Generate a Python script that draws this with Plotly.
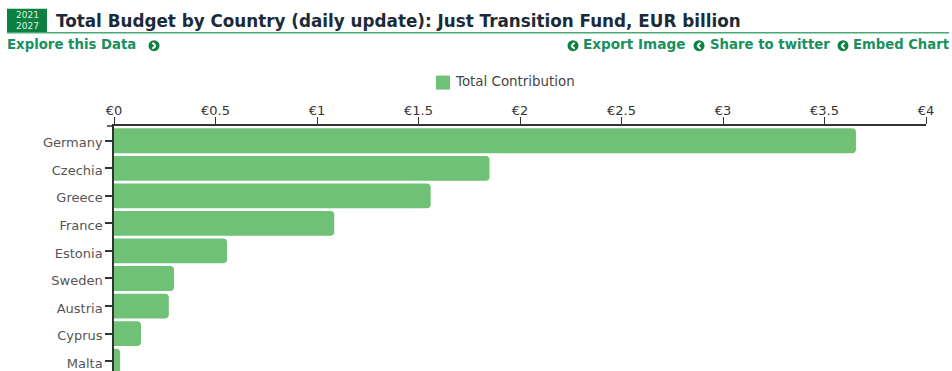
import plotly.graph_objects as go

W, H = 952, 371
L, R, T = 114, 926, 125.5
STEP = 27.6

countries = ["Germany", "Czechia", "Greece", "France", "Estonia", "Sweden", "Austria", "Cyprus", "Malta"]
total_contribution = [3.655, 1.85, 1.56, 1.085, 0.557, 0.296, 0.27, 0.133, 0.03]
x_ticks = [0, 0.5, 1, 1.5, 2, 2.5, 3, 3.5, 4]
x_labels = ["€0", "€0.5", "€1", "€1.5", "€2", "€2.5", "€3", "€3.5", "€4"]
title_text = "Total Budget by Country (daily update): Just Transition Fund, EUR billion"

FONT = "DejaVu Sans"
GREEN = "#6fc175"
DARK = "#0b8040"
LINK = "#1a9060"


def px(x):
    return (x - L) / (R - L)


def py(y):
    return 1 - (y - T) / (H - T)


fig = go.Figure(go.Bar(
    y=countries, x=total_contribution, orientation="h", name="Total Contribution",
    marker=dict(color=GREEN, cornerradius=4, line=dict(width=0)), width=0.9, showlegend=False,
))

annotations = []
shapes = []


def text(x, y, s, size, color, bold=False, anchor="left"):
    annotations.append(dict(
        xref="paper", yref="paper", x=px(x), y=py(y), text=f"<b>{s}</b>" if bold else s,
        showarrow=False, xanchor=anchor, yanchor="middle", borderpad=0, borderwidth=0,
        font=dict(family=FONT, size=size, color=color),
    ))


def rect(x0, y0, x1, y1, color):
    shapes.append(dict(type="rect", xref="paper", yref="paper", x0=px(x0), x1=px(x1), y0=py(y0), y1=py(y1),
                       fillcolor=color, line=dict(width=0), layer="above"))


def line(x0, y0, x1, y1, color, width=1):
    shapes.append(dict(type="line", xref="paper", yref="paper", x0=px(x0), x1=px(x1), y0=py(y0), y1=py(y1),
                       line=dict(color=color, width=width), layer="above"))


def icon(cx, cy, right=False):
    shapes.append(dict(type="circle", xref="paper", yref="paper", x0=px(cx - 5.5), x1=px(cx + 5.5),
                       y0=py(cy - 5.5), y1=py(cy + 5.5), fillcolor=DARK, line=dict(width=0), layer="above"))
    d = 1.6 if right else -1.6
    line(cx - d, cy - 3, cx + d, cy, "white", 2)
    line(cx + d, cy, cx - d, cy + 3, "white", 2)


rect(7, 8, 47, 32, DARK)
line(7, 32, 949, 32, "#4aa878", 1.5)
line(107, 125.5, 114, 125.5, "#333333", 1.5)
text(27, 14, "2021", 9, "#dff0e6", anchor="center")
text(27, 25, "2027", 9, "#dff0e6", anchor="center")
text(56, 20, title_text, 16.8, "#1c2b39", bold=True)
text(7, 44, "Explore this Data", 13.3, LINK, bold=True)
icon(154, 45, right=True)
icon(573, 45)
text(583, 43.5, "Export Image", 13.6, LINK, bold=True)
icon(699, 45)
text(710, 43.5, "Share to twitter", 13.3, LINK, bold=True)
icon(843, 45)
text(853, 43.5, "Embed Chart", 13.2, LINK, bold=True)
rect(436, 75, 450, 89, GREEN)
text(455, 80.5, "Total Contribution", 13.4, "#444444")

fig.update_layout(
    width=W, height=H,
    margin=dict(l=L, r=W - R, t=T, b=0, pad=0, autoexpand=False),
    paper_bgcolor="white", plot_bgcolor="white",
    annotations=annotations, shapes=shapes, showlegend=False,
    xaxis=dict(side="top", range=[0, 4], tickvals=x_ticks, ticktext=x_labels, showgrid=False, zeroline=False,
               showline=True, linecolor="#333333", linewidth=1.5, ticks="outside", ticklen=7, tickcolor="#333333",
               tickwidth=1, ticklabelstandoff=-3, tickfont=dict(family=FONT, size=13, color="#333333")),
    yaxis=dict(range=[(H - T) / STEP - 0.536, -0.536], type="category", showgrid=False, zeroline=False,
               showline=True, linecolor="#333333", linewidth=1.5, ticks="outside", ticklen=7, tickcolor="#333333",
               tickwidth=1.5, ticklabelshift=-2, tickfont=dict(family=FONT, size=13, color="#555555")),
)
fig.write_html("out.html", config={"displayModeBar": False},
               post_script="document.documentElement.style.overflow='hidden';document.body.style.margin='0';")
